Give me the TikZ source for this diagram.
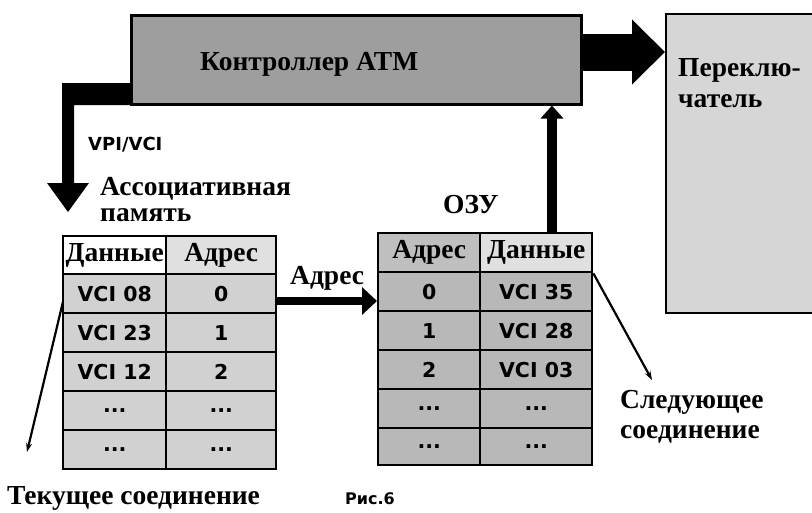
\documentclass[tikz,border=0pt]{standalone}
\usepackage{fontspec}
\setmainfont{Liberation Serif}
\newfontfamily\sansfont{DejaVu Sans}
\usetikzlibrary{arrows.meta,calc}
\definecolor{ctrlfill}{gray}{0.62}
\definecolor{swfill}{gray}{0.84}
\definecolor{camfill}{gray}{0.82}
\definecolor{ramfill}{gray}{0.72}
\definecolor{hdrlight}{gray}{0.88}
\definecolor{hdrmid}{gray}{0.75}
\begin{document}
\begin{tikzpicture}[x=1pt,y=-1pt,
  box/.style={draw, line width=2.5pt, inner sep=0pt, anchor=north west},
  cell/.style={draw, line width=2.4pt, inner sep=0pt, anchor=north west,
    font=\sansfont\fontsize{20.5}{24}\selectfont\bfseries},
  hcell/.style={cell, font=\fontsize{27.5}{32}\selectfont\bfseries},
  lbl/.style={font=\fontsize{27.5}{32}\selectfont\bfseries, inner sep=0pt, anchor=base west},
  slbl/.style={font=\sansfont\fontsize{18}{21}\selectfont\bfseries, inner sep=0pt, anchor=base west},
  ptr/.style={line width=2.2pt, -{Stealth[length=9pt,width=6pt]}}]
\useasboundingbox (0,0) rectangle (812,512);

% main boxes
\node[box, fill=ctrlfill, minimum width=450pt, minimum height=89pt] (ctrl) at (130,14) {};
\node[box, line width=2pt, fill=swfill, minimum width=160pt, minimum height=299pt] (sw) at (665,13) {};
\node[lbl] (ctrltext) at (200,70) {Контроллер ATM};
\node[lbl] (sw1) at (678,76) {Переклю-};
\node[lbl] (sw2) at (678,107) {чатель};

% CAM table
\node[hcell, fill=white, minimum width=103pt, minimum height=38pt] (camh1) at (62,235) {Данные};
\node[hcell, fill=hdrlight, minimum width=110pt, minimum height=38pt] (camh2) at (165,235) {Адрес};
\node[cell, fill=camfill, minimum width=103pt, minimum height=39pt] (cam11) at (62,273) {VCI 08};
\node[cell, fill=camfill, minimum width=110pt, minimum height=39pt] (cam12) at (165,273) {0};
\node[cell, fill=camfill, minimum width=103pt, minimum height=39pt] (cam21) at (62,312) {VCI 23};
\node[cell, fill=camfill, minimum width=110pt, minimum height=39pt] (cam22) at (165,312) {1};
\node[cell, fill=camfill, minimum width=103pt, minimum height=39pt] (cam31) at (62,351) {VCI 12};
\node[cell, fill=camfill, minimum width=110pt, minimum height=39pt] (cam32) at (165,351) {2};
\node[cell, fill=camfill, minimum width=103pt, minimum height=39pt] (cam41) at (62,390) {...};
\node[cell, fill=camfill, minimum width=110pt, minimum height=39pt] (cam42) at (165,390) {...};
\node[cell, fill=camfill, minimum width=103pt, minimum height=39pt] (cam51) at (62,429) {...};
\node[cell, fill=camfill, minimum width=110pt, minimum height=39pt] (cam52) at (165,429) {...};

% RAM table
\node[hcell, fill=hdrmid, minimum width=102pt, minimum height=39pt] (ramh1) at (377,232) {Адрес};
\node[hcell, fill=hdrlight, minimum width=112pt, minimum height=39pt] (ramh2) at (479,232) {Данные};
\node[cell, fill=ramfill, minimum width=102pt, minimum height=39pt] (ram11) at (377,271) {0};
\node[cell, fill=ramfill, minimum width=112pt, minimum height=39pt] (ram12) at (479,271) {VCI 35};
\node[cell, fill=ramfill, minimum width=102pt, minimum height=39pt] (ram21) at (377,310) {1};
\node[cell, fill=ramfill, minimum width=112pt, minimum height=39pt] (ram22) at (479,310) {VCI 28};
\node[cell, fill=ramfill, minimum width=102pt, minimum height=39pt] (ram31) at (377,349) {2};
\node[cell, fill=ramfill, minimum width=112pt, minimum height=39pt] (ram32) at (479,349) {VCI 03};
\node[cell, fill=ramfill, minimum width=102pt, minimum height=39pt] (ram41) at (377,388) {...};
\node[cell, fill=ramfill, minimum width=112pt, minimum height=39pt] (ram42) at (479,388) {...};
\node[cell, fill=ramfill, minimum width=102pt, minimum height=37pt] (ram51) at (377,427) {...};
\node[cell, fill=ramfill, minimum width=112pt, minimum height=37pt] (ram52) at (479,427) {...};

% labels
\node[slbl] (vpi) at (88,150) {VPI/VCI};
\node[lbl] (cam1) at (100,195) {Ассоциативная};
\node[lbl] (cam2) at (100,221) {память};
\node[lbl] (ozu) at (443,213) {ОЗУ};
\node[lbl] (adr) at (290,284) {Адрес};
\node[lbl] (tek) at (7,504) {Текущее соединение};
\node[lbl] (sl1) at (620,408) {Следующее};
\node[lbl] (sl2) at (620,438) {соединение};
\node[font=\sansfont\fontsize{16}{19}\selectfont\bfseries, inner sep=0pt, anchor=base west] (fig) at (345,504) {Рис.6};

% connectors
\coordinate (vpitip) at (68,212);
\fill (ctrl.west |- 0,83) -- (62,83) -- (62,183) -- (47,183) -- (vpitip)
  -- (89,183) -- (74,183) -- (74,105) -- (ctrl.west |- 0,105) -- cycle;
\draw[line width=37pt, -{Triangle[length=33pt,width=63pt]}] (ctrl.east |- 0,52) -- (sw.west |- 0,52);
\draw[line width=10pt, -{Triangle[length=13pt,width=22pt]}] (ramh2.north -| 552,0) -- (ctrl.south -| 552,0);
\draw[line width=8pt, -{Triangle[length=15pt,width=27pt]}] (cam12.east |- 0,301) -- (ram11.west |- 0,301);
\coordinate (tekend) at (27,452);
\coordinate (slend) at (652,380);
\draw[ptr] ($(cam11.west)+(1,8)$) -- (tekend);
\draw[ptr] (ramh2.south east) -- (slend);
\end{tikzpicture}
\end{document}
